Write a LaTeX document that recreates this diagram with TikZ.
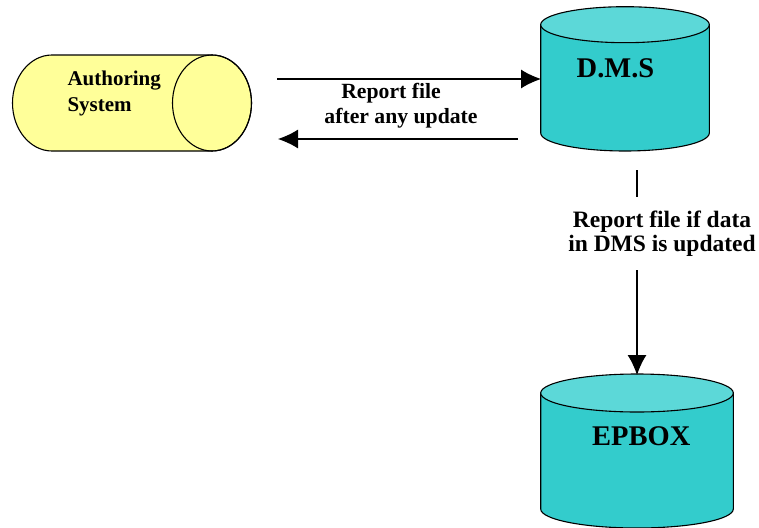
\documentclass[tikz,border=0pt]{standalone}
\usepackage{fontspec}
\setmainfont{Liberation Serif}
\usetikzlibrary{arrows.meta}

\definecolor{noteyellow}{HTML}{FFFF99}
\definecolor{drumbody}{HTML}{33CCCC}
\definecolor{drumtop}{HTML}{5CD8D8}

% upright drum: centre x, top y, bottom y, x radius, y radius
\newcommand{\drum}[5]{%
  \filldraw[shell, fill=drumbody] (#1-#4,#2) -- (#1-#4,#3)
    arc[start angle=180, end angle=360, x radius=#4, y radius=#5] -- (#1+#4,#2) -- cycle;
  \filldraw[shell, fill=drumtop] (#1,#2) ellipse[x radius=#4, y radius=#5];
}

\begin{document}
\begin{tikzpicture}[
    x=1pt, y=1pt,
    >={Latex[length=20pt,width=19pt]},
    line width=1.1pt,
    shell/.style={draw=black, line width=1.1pt},
    lbl/.style={font=\bfseries\fontsize{23.5}{24}\selectfont, align=center, inner sep=0pt},
    title/.style={font=\bfseries\fontsize{28.5}{30}\selectfont, inner sep=0pt, anchor=base},
  ]
  \useasboundingbox (0,0) rectangle (759,-527);

  % authoring system, lying on its side
  \filldraw[shell, fill=noteyellow] (52,-55) -- (212,-55)
    arc[start angle=90, end angle=-90, x radius=39.5, y radius=48]
    -- (52,-151) arc[start angle=270, end angle=90, x radius=39.5, y radius=48] -- cycle;
  \draw[shell] (212,-103) ellipse[x radius=39.5, y radius=48];

  % the two stores
  \drum{625}{-24.7}{-133}{84.3}{18}
  \drum{637}{-393}{-509}{96.3}{19}

  % base anchors sit on the last line of a two-line node
  \node[anchor=base west, align=left, inner sep=0pt,
        font=\bfseries\fontsize{21}{26.7}\selectfont] (auth) at (67,-111.7) {Authoring\\System};
  \node[title] (dms)   at (615.5,-77.3) {D.M.S};
  \node[title] (epbox) at (641.3,-445)  {EPBOX};

  \node[lbl, anchor=base, font=\bfseries\fontsize{21.7}{25}\selectfont] (rep) at (401,-123)
    {Report file\hspace*{20pt}\\after any update};
  \node[lbl, anchor=base] (upd) at (662,-251.7) {Report file if data\\in DMS is updated};

  \coordinate (auth-out)  at (277,-79);
  \coordinate (dms-in)    at (541,-79);
  \coordinate (dms-out)   at (518,-139);
  \coordinate (auth-in)   at (278,-139);
  \coordinate (dms-foot)  at (637,-170);
  \coordinate (epbox-top) at (637,-375);

  \draw[->] (auth-out) -- (dms-in);
  \draw[->] (dms-out) -- (auth-in);
  \draw (dms-foot) -- ([yshift=14pt]dms-foot |- upd.north);
  \draw[->] ([yshift=-13pt]dms-foot |- upd.south) -- (epbox-top);
\end{tikzpicture}
\end{document}
